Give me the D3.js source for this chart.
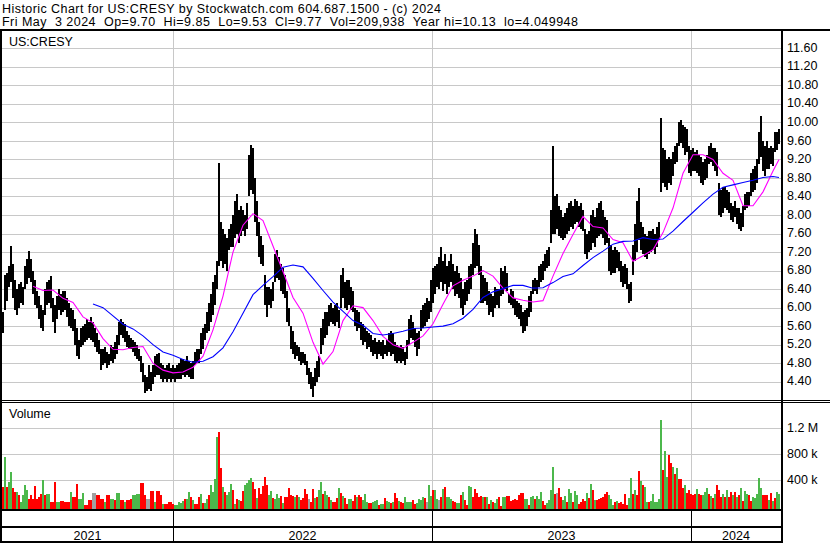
<!DOCTYPE html>
<html><head><meta charset="utf-8">
<script src="https://cdn.jsdelivr.net/npm/d3@7"></script>
<style>
html,body{margin:0;padding:0;background:#fff;}
svg{display:block;font-family:"Liberation Sans",Arial,sans-serif;}
</style></head><body>
<svg id="c" width="830" height="543"></svg>
<script>
const headerLine1 = "Historic Chart for US:CRESY by Stockwatch.com 604.687.1500 - (c) 2024";
const headerLine2 = "Fri May \u00a03 2024 \u00a0Op=9.70 \u00a0Hi=9.85 \u00a0Lo=9.53 \u00a0Cl=9.77 \u00a0Vol=209,938 \u00a0Year hi=10.13 \u00a0lo=4.049948";
const symbolLabel = "US:CRESY";
const volumeLabel = "Volume";
const priceTicks = [4.40,4.80,5.20,5.60,6.00,6.40,6.80,7.20,7.60,8.00,8.40,8.80,9.20,9.60,10.00,10.40,10.80,11.20,11.60];
const volTicks = [400,800,1200];              // thousands
const volTickLabels = ["400 k","800 k","1.2 M"];
const yearLabels = ["2021","2022","2023","2024"];
const yearStartDay = [0,171,430,689];         // trading-day index where each year begins
const totalDays = 778;
const daysPerBar = 2;

// bar lows / highs (each bar = 2 trading days)
const barLow = [
5.45,5.95,6.15,6.45,6.55,6.20,5.95,5.85,6.00,6.10,
6.05,6.40,6.50,6.65,6.55,6.30,6.05,6.00,5.75,5.55,
5.50,5.85,6.05,6.10,6.00,5.70,5.45,5.75,5.95,5.85,
5.90,5.95,5.80,5.60,5.55,5.50,5.20,4.95,4.90,5.15,
5.20,5.25,5.30,5.35,5.30,5.25,5.15,5.05,5.00,4.65,
4.75,4.80,4.70,4.75,4.85,4.80,4.90,5.00,5.20,5.40,
5.35,5.25,5.15,5.10,5.10,5.05,4.95,4.90,4.85,4.60,
4.40,4.15,4.20,4.25,4.20,4.35,4.50,4.55,4.55,4.45,
4.40,4.45,4.40,4.45,4.40,4.45,4.40,4.45,4.45,4.45,
4.55,4.50,4.55,4.50,4.45,4.45,4.75,4.80,4.80,5.00,
5.10,5.30,5.45,5.50,5.70,5.85,6.05,6.40,6.90,7.00,
6.85,6.95,6.80,7.25,7.30,7.30,7.50,7.60,7.40,7.55,
7.65,7.55,7.70,8.40,8.55,8.45,7.85,7.55,7.10,6.95,
6.90,6.05,5.80,6.05,6.00,6.15,6.55,6.65,6.60,6.35,
6.30,6.20,5.70,5.60,5.10,5.00,4.90,4.95,4.85,4.75,
4.80,4.75,4.55,4.35,4.25,4.08,4.30,4.40,4.50,5.00,
5.20,5.35,5.40,5.60,5.70,5.65,5.60,5.70,5.55,6.00,
6.20,6.00,5.95,6.05,5.95,5.90,5.60,5.50,5.55,5.30,
5.20,5.25,5.10,5.15,5.05,4.95,5.00,4.90,5.00,4.95,
4.90,5.00,4.95,5.05,4.95,5.00,4.85,4.80,4.85,4.80,
4.85,4.75,4.90,5.20,5.35,5.30,5.15,4.95,5.10,5.50,
5.55,5.60,5.70,5.75,5.90,6.10,6.30,6.45,6.40,6.55,
6.35,6.50,6.30,6.45,6.55,6.40,6.25,6.30,6.20,6.00,
5.85,6.05,6.15,6.30,6.40,6.70,6.85,6.90,6.70,6.10,
6.10,6.15,6.05,5.85,5.90,5.80,6.00,6.05,6.00,6.25,
6.30,6.40,6.35,6.10,6.05,6.00,5.85,5.80,5.75,5.60,
5.45,5.50,5.60,5.80,5.90,6.30,6.35,6.30,6.45,6.55,
6.60,6.80,6.85,6.90,7.40,7.60,7.60,7.70,7.55,7.50,
7.45,7.50,7.60,7.65,7.75,7.70,7.80,7.85,7.75,7.70,
7.65,7.15,7.05,7.20,7.25,7.40,7.30,7.50,7.55,7.60,
7.50,7.35,7.40,6.80,6.70,6.75,6.75,6.85,6.80,6.55,
6.45,6.50,6.40,6.10,6.15,6.70,7.00,7.20,7.45,7.25,
7.15,7.10,7.05,7.15,7.20,7.25,7.15,7.30,7.45,8.50,
8.70,8.60,8.55,8.70,8.65,8.85,9.10,9.15,9.50,9.55,
9.45,9.30,9.35,8.90,8.85,8.95,8.95,8.90,8.85,8.70,
8.65,8.75,8.80,9.10,9.15,9.05,8.95,8.85,8.00,7.95,
8.05,8.15,8.10,8.05,7.90,7.85,7.95,7.80,7.70,7.65,
7.75,8.10,8.15,8.20,8.40,8.50,8.55,8.70,9.10,9.25,
8.95,8.85,9.00,9.00,9.10,9.05,9.35,9.40,9.53];
const barHigh = [
5.90,6.70,6.75,6.90,7.33,6.95,6.60,6.40,6.50,6.55,
6.45,6.90,7.05,7.23,7.05,6.80,6.60,6.35,6.25,6.05,
5.95,6.40,6.55,6.60,6.68,6.20,6.05,6.25,6.40,6.30,
6.35,6.35,6.20,6.10,6.00,5.95,5.75,5.55,5.30,5.55,
5.60,5.65,5.75,5.70,5.80,5.70,5.55,5.45,5.30,5.10,
5.10,5.15,5.05,5.00,5.20,5.15,5.25,5.40,5.70,5.75,
5.70,5.65,5.50,5.40,5.35,5.30,5.25,5.20,5.10,4.95,
4.80,4.55,4.50,4.75,4.60,4.75,4.95,5.00,5.02,4.80,
4.75,4.70,4.75,4.80,4.70,4.75,4.70,4.75,4.80,4.90,
4.90,4.85,4.95,4.85,4.80,4.85,5.05,5.10,5.10,5.45,
5.55,5.65,5.90,6.10,6.30,6.55,6.70,7.00,9.12,7.85,
7.70,7.60,7.50,7.70,7.80,8.00,8.30,8.45,8.10,8.20,
8.10,8.00,8.25,9.30,9.51,9.45,8.80,8.30,7.85,7.55,
7.35,6.70,6.45,6.45,6.40,6.55,7.15,7.25,7.10,6.95,
6.85,6.70,6.35,6.00,5.60,5.50,5.25,5.20,5.15,5.05,
5.05,5.00,4.85,4.70,4.60,4.50,4.70,4.85,4.95,5.55,
5.75,5.90,5.90,6.05,6.10,6.00,6.05,6.10,5.95,6.70,
6.85,6.55,6.60,6.60,6.45,6.35,6.00,5.95,5.90,5.70,
5.65,5.55,5.50,5.45,5.40,5.30,5.35,5.25,5.30,5.25,
5.30,5.20,5.30,5.45,5.50,5.45,5.25,5.20,5.15,5.20,
5.15,5.05,5.30,5.75,5.85,5.70,5.55,5.45,5.50,5.95,
6.05,6.10,6.20,6.15,6.60,6.85,6.90,6.95,7.10,7.30,
7.00,7.15,6.90,7.00,7.15,6.95,6.80,6.90,6.75,6.65,
6.40,6.55,6.60,6.90,6.95,7.40,7.70,7.60,7.35,6.90,
6.70,6.65,6.55,6.35,6.30,6.25,6.45,6.40,6.40,6.85,
6.80,6.90,6.75,6.30,6.40,6.35,6.20,6.15,6.10,6.05,
5.90,5.95,6.00,6.25,6.35,6.60,6.65,6.60,6.90,6.95,
7.00,7.15,7.25,7.30,8.10,9.50,8.40,8.45,8.20,8.10,
7.95,8.05,8.15,8.25,8.30,8.20,8.35,8.30,8.20,8.25,
8.10,7.70,7.60,7.65,8.00,8.10,7.95,8.15,8.25,8.30,
8.10,7.95,7.90,7.50,7.35,7.25,7.30,7.25,7.20,7.00,
6.90,6.95,6.85,6.50,6.55,7.35,7.80,8.30,8.58,7.85,
7.75,7.60,7.55,7.65,7.65,7.70,7.60,7.75,7.85,10.09,
9.45,9.40,9.20,9.25,9.20,9.35,9.50,9.55,10.00,10.05,
9.95,9.90,9.85,9.50,9.40,9.45,9.35,9.40,9.30,9.25,
9.15,9.20,9.30,9.50,9.55,9.45,9.45,9.35,8.70,8.55,
8.60,8.60,8.55,8.50,8.25,8.20,8.30,8.15,8.15,8.05,
8.20,8.45,8.50,8.50,8.90,9.00,9.05,9.20,9.80,10.13,
9.60,9.50,9.60,9.45,9.50,9.45,9.80,9.80,9.85];

// volume in thousands, and direction (1 up / -1 down / 0 unchanged)
const volume = [
300,760,300,380,530,280,220,225,180,70,
170,330,250,120,170,120,320,120,140,190,
405,170,190,190,70,70,380,70,70,80,
80,70,70,70,225,150,150,350,120,120,
200,20,20,90,90,200,200,170,170,120,
120,70,170,170,120,120,95,200,200,95,
95,70,95,95,110,170,170,190,190,355,
355,170,120,120,240,240,70,240,240,170,
40,40,40,70,70,40,20,20,70,46,
80,110,105,220,138,97,36,36,138,190,
46,46,110,175,330,220,420,1060,1150,585,
293,220,170,215,344,251,36,117,97,87,
236,323,364,405,436,380,272,132,282,190,
313,452,330,175,236,123,117,190,123,160,
46,138,148,282,175,160,148,175,138,97,
123,266,185,110,61,266,128,138,251,375,
190,241,180,143,97,66,61,128,282,200,
160,128,36,110,110,80,175,148,175,138,
97,190,66,46,46,66,87,97,20,36,
36,128,80,66,56,66,200,123,80,61,
46,143,61,61,61,97,30,46,110,97,
138,132,66,330,160,251,251,110,97,143,
266,293,143,138,110,87,66,46,46,175,
220,97,20,313,293,138,266,200,148,160,
138,138,138,30,97,66,46,117,143,10,
143,143,160,160,80,97,110,97,175,205,
205,110,110,20,138,165,105,155,117,220,
80,20,56,97,251,600,185,200,282,148,
97,160,66,266,200,66,236,170,36,66,
110,80,200,128,344,251,97,97,117,123,
148,185,215,174,113,20,71,82,46,61,
30,185,20,123,440,185,251,174,543,390,
328,302,71,71,82,185,71,61,113,1330,
558,850,456,790,661,610,492,595,420,420,
277,328,200,251,185,174,190,266,185,174,
174,225,287,195,164,123,185,328,251,148,
185,138,251,148,225,174,225,138,174,277,
82,236,185,174,82,148,123,185,430,277,
180,180,174,97,200,82,123,215,190];
const volDir = [
-1,1,-1,1,1,-1,-1,1,-1,1,
1,1,1,-1,-1,-1,-1,-1,-1,-1,
1,-1,1,1,-1,-1,-1,1,1,-1,
-1,-1,-1,-1,1,-1,-1,-1,1,1,
1,-1,-1,-1,-1,0,0,-1,-1,-1,
-1,1,-1,-1,1,1,-1,1,1,-1,
-1,1,-1,-1,-1,1,1,1,1,-1,
-1,-1,0,0,-1,-1,1,-1,-1,-1,
1,-1,-1,-1,-1,-1,1,1,1,1,
1,-1,1,1,-1,1,-1,-1,-1,1,
-1,1,1,-1,1,1,1,1,-1,-1,
1,-1,1,1,1,-1,1,-1,1,-1,
-1,1,1,1,1,-1,-1,1,-1,-1,
-1,-1,-1,1,1,-1,1,1,1,-1,
1,-1,-1,-1,-1,-1,1,-1,1,-1,
-1,-1,-1,0,-1,-1,1,-1,1,1,
-1,1,1,-1,1,-1,-1,-1,1,-1,
1,-1,-1,1,1,-1,-1,1,-1,-1,
1,1,1,-1,-1,1,1,1,-1,1,
1,-1,1,1,-1,1,-1,-1,1,-1,
-1,1,1,1,1,-1,-1,1,1,1,
1,-1,0,1,1,-1,1,1,0,-1,
1,-1,1,1,1,-1,-1,1,1,-1,
1,-1,-1,1,1,-1,-1,-1,-1,-1,
1,-1,1,-1,1,-1,1,1,-1,-1,
1,1,-1,-1,-1,-1,-1,-1,-1,-1,
-1,1,1,-1,1,1,-1,1,1,1,
-1,-1,1,1,1,1,-1,0,-1,-1,
1,1,-1,1,1,-1,1,1,-1,-1,
-1,-1,1,-1,1,-1,1,-1,-1,-1,
-1,-1,-1,1,1,1,-1,1,-1,-1,
-1,-1,-1,1,1,-1,1,-1,-1,1,
-1,1,1,-1,1,1,1,1,1,1,
-1,1,1,-1,-1,1,-1,1,-1,-1,
-1,1,-1,-1,-1,-1,-1,1,-1,-1,
1,1,1,-1,1,-1,1,-1,-1,-1,
1,-1,1,-1,-1,1,-1,1,-1,1,
-1,1,1,-1,-1,1,1,1,1,1,
-1,-1,-1,1,-1,1,-1,1,1];

// moving averages sampled every 10 trading days (last sample = last day)
const maFastStartDay = 30;
const maFast = [
6.46,6.37,6.38,6.20,6.11,5.80,5.67,5.33,5.10,5.09,
5.14,5.16,4.80,4.65,4.59,4.61,4.71,4.95,5.52,6.25,
7.20,7.78,8.03,7.88,7.33,6.78,6.22,5.88,5.25,4.78,
5.05,5.72,6.04,6.00,5.72,5.38,5.20,5.12,5.25,5.39,
5.65,6.07,6.47,6.59,6.68,6.80,6.68,6.42,6.21,6.16,
6.12,6.15,6.68,7.17,7.58,7.97,7.75,7.72,7.47,7.40,
7.00,7.12,7.25,7.62,8.15,8.90,9.30,9.30,9.20,8.90,
8.75,8.20,8.20,8.50,8.95,9.20];
const maSlowStartDay = 90;
const maSlow = [
6.08,6.00,5.82,5.64,5.54,5.39,5.20,5.04,4.97,4.88,
4.82,4.84,4.94,5.13,5.48,5.88,6.28,6.48,6.67,6.87,
6.92,6.88,6.63,6.37,6.12,5.92,5.72,5.62,5.44,5.41,
5.44,5.49,5.55,5.56,5.58,5.60,5.65,5.77,5.96,6.22,
6.34,6.41,6.48,6.48,6.42,6.43,6.54,6.67,6.73,6.91,
7.08,7.22,7.37,7.43,7.44,7.51,7.47,7.48,7.65,7.86,
8.06,8.26,8.45,8.60,8.65,8.70,8.75,8.81,8.83,8.81];

// ---------------- drawing ----------------
const W = 830, H = 543;
const plotL = 2, plotR = 780;
const svg = d3.select("#c");
const x = d3.scaleLinear().domain([0, totalDays]).range([plotL, plotR]);
const y = d3.scaleLinear().domain([4.4, 11.6]).range([381.7, 48.3]);
const yv = d3.scaleLinear().domain([0, 1200]).range([506.3, 428.3]);
const grid = "#c8c8c8";

// price gridlines
svg.append("g").selectAll("line").data(priceTicks).join("line")
  .attr("x1", plotL).attr("x2", plotR + 1)
  .attr("y1", d => Math.round(y(d)) + 0.5).attr("y2", d => Math.round(y(d)) + 0.5)
  .attr("stroke", grid).attr("stroke-width", 1);
// volume gridlines
svg.append("g").selectAll("line").data(volTicks).join("line")
  .attr("x1", plotL).attr("x2", plotR + 1)
  .attr("y1", d => Math.round(yv(d)) + 0.5).attr("y2", d => Math.round(yv(d)) + 0.5)
  .attr("stroke", grid).attr("stroke-width", 1);
// year gridlines (price + volume panels)
const yearLines = yearStartDay.slice(1);
[[31, 400], [403, 509]].forEach(([a, b]) => {
  svg.append("g").selectAll("line").data(yearLines).join("line")
    .attr("x1", d => Math.round(x(d)) + 0.5).attr("x2", d => Math.round(x(d)) + 0.5)
    .attr("y1", a).attr("y2", b).attr("stroke", grid).attr("stroke-width", 1);
});

// volume bars
const bw = x(daysPerBar) - x(0);
const volColor = d => d > 0 ? "#4cb84c" : (d < 0 ? "#ff0000" : "#a0a0a0");
svg.append("g").attr("shape-rendering", "crispEdges").selectAll("rect").data(volume).join("rect")
  .attr("x", (d, i) => x(i * daysPerBar))
  .attr("width", bw)
  .attr("y", d => yv(d))
  .attr("height", d => 509.5 - yv(d))
  .attr("fill", (d, i) => volColor(volDir[i]));

// price bars
const bars = barLow.map((l, i) => ({l, h: barHigh[i], i}));
svg.append("g").attr("shape-rendering", "crispEdges").selectAll("rect").data(bars).join("rect")
  .attr("x", d => x(d.i * daysPerBar))
  .attr("width", bw)
  .attr("y", d => y(d.h))
  .attr("height", d => Math.max(1, y(d.l) - y(d.h)))
  .attr("fill", "#000");

// moving averages
function maPoints(vals, start) {
  return vals.map((v, k) => [k === vals.length - 1 ? totalDays - 2 : start + k * 10, v]);
}
const line = d3.line().x(d => x(d[0]) + 1).y(d => y(d[1]));
svg.append("path").datum(maPoints(maFast, maFastStartDay)).attr("d", line)
  .attr("fill", "none").attr("stroke", "#ff00ff").attr("stroke-width", 1.1);
svg.append("path").datum(maPoints(maSlow, maSlowStartDay)).attr("d", line)
  .attr("fill", "none").attr("stroke", "#0000ff").attr("stroke-width", 1.1);

// frame
const blk = "#000";
const frame = svg.append("g").attr("shape-rendering", "crispEdges");
frame.append("rect").attr("x", 0).attr("y", 29).attr("width", W).attr("height", 2).attr("fill", blk);
frame.append("rect").attr("x", 0).attr("y", 29).attr("width", 2).attr("height", H - 29).attr("fill", blk);
frame.append("rect").attr("x", 781).attr("y", 29).attr("width", 2).attr("height", H - 29).attr("fill", blk);
frame.append("rect").attr("x", 0).attr("y", 400).attr("width", W).attr("height", 1).attr("fill", blk);
frame.append("rect").attr("x", 0).attr("y", 402).attr("width", W).attr("height", 1).attr("fill", blk);
frame.append("rect").attr("x", 0).attr("y", 509).attr("width", 783).attr("height", 2).attr("fill", blk);
frame.append("rect").attr("x", 0).attr("y", 526).attr("width", 783).attr("height", 2).attr("fill", blk);
frame.append("rect").attr("x", 0).attr("y", 541).attr("width", 783).attr("height", 2).attr("fill", blk);
frame.selectAll("line.sep").data(yearLines).join("line")
  .attr("x1", d => Math.round(x(d)) + 0.5).attr("x2", d => Math.round(x(d)) + 0.5)
  .attr("y1", 511).attr("y2", 541).attr("stroke", blk).attr("stroke-width", 1);

// axes (right side labels)
const fs = "12.5px";
const pAxis = svg.append("g").attr("transform", "translate(784,0)")
  .call(d3.axisRight(y).tickValues(priceTicks).tickSize(0).tickPadding(3).tickFormat(d3.format(".2f")));
pAxis.select(".domain").remove();
pAxis.selectAll("text").attr("font-size", fs).attr("font-family", "Liberation Sans, Arial, sans-serif").attr("fill", "#000").attr("dy", "0.25em");
const vAxis = svg.append("g").attr("transform", "translate(784,0)")
  .call(d3.axisRight(yv).tickValues(volTicks).tickSize(0).tickPadding(3).tickFormat((d, i) => volTickLabels[i]));
vAxis.select(".domain").remove();
vAxis.selectAll("text").attr("font-size", fs).attr("font-family", "Liberation Sans, Arial, sans-serif").attr("fill", "#000").attr("dy", "0.25em");

// year labels
const yearMid = yearStartDay.map((d, i) => (x(d) + (i < yearStartDay.length - 1 ? x(yearStartDay[i + 1]) : 781)) / 2);
svg.append("g").selectAll("text").data(yearLabels).join("text")
  .attr("x", (d, i) => yearMid[i]).attr("y", 539.5)
  .attr("text-anchor", "middle").attr("font-size", fs).text(d => d);

// labels
svg.append("text").attr("x", 9).attr("y", 46).attr("font-size", fs).text(symbolLabel);
svg.append("text").attr("x", 9).attr("y", 417.5).attr("font-size", fs).text(volumeLabel);

// header lines, spaced to match the reference widths
function fitText(sel, target) {
  const n = sel.text().length;
  const w = sel.node().getComputedTextLength();
  sel.attr("letter-spacing", ((target - w) / (n - 1)).toFixed(3));
}
const h1 = svg.append("text").attr("x", 2).attr("y", 13).attr("font-size", "12.5px").text(headerLine1);
fitText(h1, 439);
const h2 = svg.append("text").attr("x", 2).attr("y", 26).attr("font-size", "12.5px").text(headerLine2);
fitText(h2, 576);
</script>
</body></html>
